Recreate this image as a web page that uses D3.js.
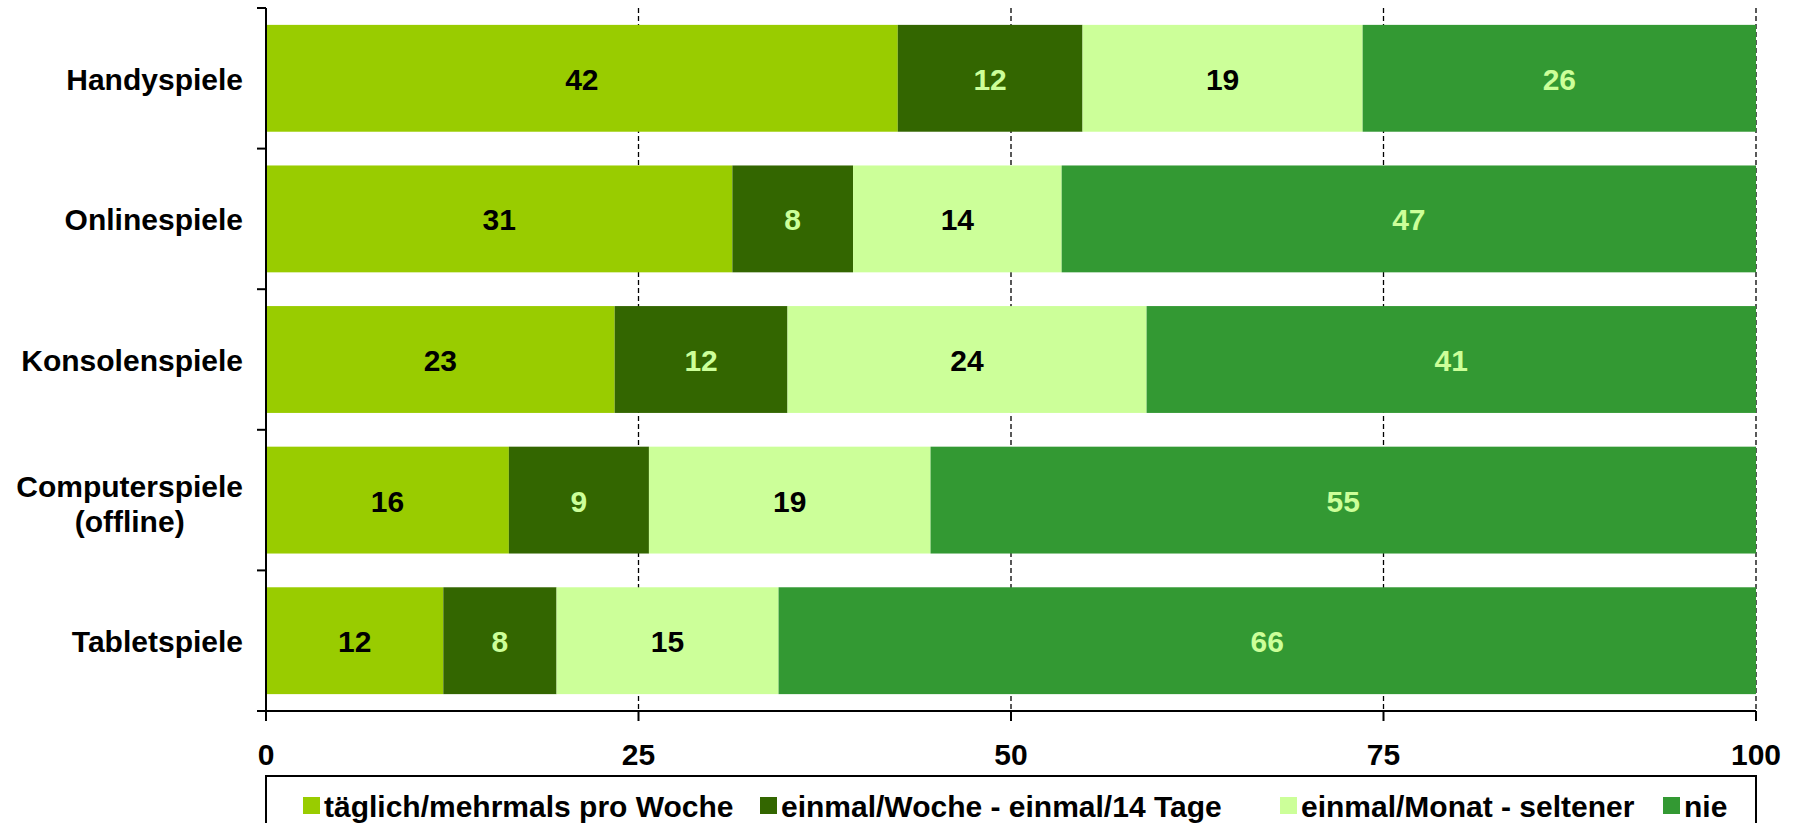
<!DOCTYPE html>
<html lang="de">
<head>
<meta charset="UTF-8">
<script src="https://d3js.org/d3.v7.min.js"></script>
<title>Spielenutzung</title>
<style>
  body { margin: 0; background: #fff; }
  svg text { font-family: "Liberation Sans", Arial, sans-serif; font-weight: bold; }
</style>
</head>
<body>
<svg id="chart" width="1798" height="823"></svg>
<script>
// categories (top to bottom)
const categories = ["Handyspiele", "Onlinespiele", "Konsolenspiele", "Computerspiele\n(offline)", "Tabletspiele"];
// series
const seriesNames = ["täglich/mehrmals pro Woche", "einmal/Woche - einmal/14 Tage", "einmal/Monat - seltener", "nie"];
const taeglich = [42.4, 31.3, 23.4, 16.3, 11.9];
const woechentlich = [12.4, 8.1, 11.6, 9.4, 7.6];
const monatlich = [18.8, 14.0, 24.1, 18.9, 14.9];
const nie = [26.4, 46.6, 40.9, 55.4, 65.6];
const xTicks = [0, 25, 50, 75, 100];

const colors = ["#99cc00", "#336600", "#ccff99", "#339933"];
const labelColors = ["#000", "#ccff99", "#000", "#ccff99"];

let svg = d3.select("#chart");

const plotL = 266, plotR = 1756, plotT = 8, plotB = 711;

let x = d3.scaleLinear().domain([0, 100]).range([plotL, plotR]);
let y = d3.scaleBand().domain(categories).range([plotT, plotB]).paddingInner(0.24).paddingOuter(0.12);

// build rows for d3.stack
let rows = categories.map((c, i) => ({
    cat: c, s0: taeglich[i], s1: woechentlich[i], s2: monatlich[i], s3: nie[i]
}));
let stacked = d3.stack().keys(["s0", "s1", "s2", "s3"])(rows);

// dashed grid lines
svg.append("g")
    .selectAll("line")
    .data(xTicks.filter(d => d > 0))
    .join("line")
    .attr("x1", d => x(d)).attr("x2", d => x(d))
    .attr("y1", plotT).attr("y2", plotB)
    .attr("stroke", "#000")
    .attr("stroke-width", 1.3)
    .attr("stroke-dasharray", "5,3");

// bars
stacked.forEach((layer, k) => {
    let g = svg.append("g");
    g.selectAll("rect")
        .data(layer)
        .join("rect")
        .attr("x", d => x(d[0]))
        .attr("y", d => y(d.data.cat))
        .attr("width", d => x(d[1]) - x(d[0]))
        .attr("height", y.bandwidth())
        .attr("fill", colors[k]);

    g.selectAll("text")
        .data(layer)
        .join("text")
        .attr("x", d => (x(d[0]) + x(d[1])) / 2)
        .attr("y", d => y(d.data.cat) + y.bandwidth() / 2 + 1)
        .attr("text-anchor", "middle")
        .attr("dominant-baseline", "central")
        .attr("font-size", 30)
        .attr("fill", labelColors[k])
        .text(d => Math.round(d[1] - d[0]));
});

// y axis
svg.append("line")
    .attr("x1", plotL).attr("x2", plotL)
    .attr("y1", plotT).attr("y2", plotB)
    .attr("stroke", "#000").attr("stroke-width", 2);

let bandEdges = categories.map(c => y(c) - y.step() * y.paddingInner() / 2);
bandEdges[0] = plotT;
bandEdges.push(plotB);
svg.append("g")
    .selectAll("line")
    .data(bandEdges)
    .join("line")
    .attr("x1", plotL - 9).attr("x2", plotL)
    .attr("y1", d => d).attr("y2", d => d)
    .attr("stroke", "#000").attr("stroke-width", 2);

// category labels
categories.forEach(c => {
    let lines = c.split("\n");
    let cy = y(c) + y.bandwidth() / 2 + 1 + (lines.length > 1 ? 3 : 0);
    let t = svg.append("text")
        .attr("font-size", 30)
        .attr("fill", "#000");
    lines.forEach((ln, j) => {
        t.append("tspan")
            .attr("x", 0)
            .attr("y", cy + (j - (lines.length - 1) / 2) * 35)
            .attr("dominant-baseline", "central")
            .text(ln);
    });
    let w = t.node().getBBox().width;
    t.attr("text-anchor", "middle")
        .selectAll("tspan").attr("x", 243 - w / 2);
});

// x axis
svg.append("line")
    .attr("x1", plotL).attr("x2", plotR)
    .attr("y1", plotB).attr("y2", plotB)
    .attr("stroke", "#000").attr("stroke-width", 2);

let xg = svg.append("g");
xg.selectAll("line")
    .data(xTicks)
    .join("line")
    .attr("x1", d => x(d)).attr("x2", d => x(d))
    .attr("y1", plotB).attr("y2", plotB + 10)
    .attr("stroke", "#000").attr("stroke-width", 2);
xg.selectAll("text")
    .data(xTicks)
    .join("text")
    .attr("x", d => x(d))
    .attr("y", 754)
    .attr("text-anchor", "middle")
    .attr("dominant-baseline", "central")
    .attr("font-size", 30)
    .text(d => d);

// legend
svg.append("rect")
    .attr("x", plotL).attr("y", 776)
    .attr("width", plotR - plotL).attr("height", 60)
    .attr("fill", "none").attr("stroke", "#000").attr("stroke-width", 2);

const legendX = [303, 760, 1280, 1663];
seriesNames.forEach((s, k) => {
    svg.append("rect")
        .attr("x", legendX[k]).attr("y", 797)
        .attr("width", 17).attr("height", 17)
        .attr("fill", colors[k]);
    svg.append("text")
        .attr("x", legendX[k] + 21)
        .attr("y", 806)
        .attr("dominant-baseline", "central")
        .attr("font-size", 30)
        .text(s);
});
</script>
</body>
</html>
